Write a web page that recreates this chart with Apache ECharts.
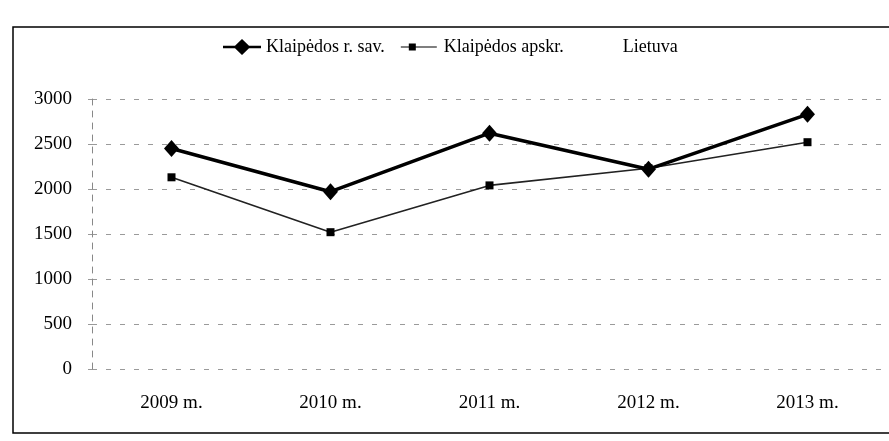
<!DOCTYPE html>
<html>
<head>
<meta charset="utf-8">
<script src="https://cdn.jsdelivr.net/npm/echarts@6/dist/echarts.min.js"></script>
<style>
  html, body { margin: 0; padding: 0; background: #fff; }
  #chart { width: 889px; height: 441px; }
</style>
</head>
<body>
<div id="chart"></div>
<script>
const categories = ['2009 m.', '2010 m.', '2011 m.', '2012 m.', '2013 m.'];
const klaipedosRSav = [2450, 1970, 2620, 2220, 2830];
const klaipedosApskr = [2130, 1520, 2040, 2230, 2520];
const lietuva = [];
const seriesNames = ['Klaipėdos r. sav.', 'Klaipėdos apskr.', 'Lietuva'];
const yTicks = [0, 500, 1000, 1500, 2000, 2500, 3000];

const FONT = '"Liberation Serif", "Times New Roman", serif';
const ICON_DIAMOND = 'path://M0 0M38 16M0 6.8H12L19 0L26 6.8H38V9.2H26L19 16L12 9.2H0Z';
const ICON_SQUARE = 'path://M0 0M38 16M0 7.5H8V4.5H15V11.5H8V8.5H0ZM15 7.5H36V8.5H15Z';

const chart = echarts.init(document.getElementById('chart'), null, { renderer: 'canvas' });

chart.setOption({
  backgroundColor: '#fff',
  animation: false,
  graphic: [{
    type: 'rect',
    shape: { x: 13, y: 27, width: 920, height: 406 },
    style: { fill: 'none', stroke: '#000', lineWidth: 1.5 },
    silent: true,
    z: -1
  }],
  legend: {
    top: 33,
    left: 218,
    itemWidth: 38,
    itemHeight: 16,
    itemGap: 16,
    symbolKeepAspect: true,
    textStyle: { fontFamily: FONT, fontSize: 18, color: '#000' },
    data: [
      { name: seriesNames[0], icon: ICON_DIAMOND },
      { name: seriesNames[1], icon: ICON_SQUARE },
      { name: seriesNames[2], icon: 'rect', itemStyle: { opacity: 0 } }
    ]
  },
  grid: { left: 92, right: 2, top: 99, bottom: 72 },
  xAxis: {
    type: 'category',
    data: categories,
    boundaryGap: true,
    axisLine: { show: false },
    axisTick: { show: false },
    axisLabel: { fontFamily: FONT, fontSize: 19, color: '#000', margin: 25 }
  },
  yAxis: {
    type: 'value',
    min: yTicks[0],
    max: yTicks[yTicks.length - 1],
    interval: 500,
    axisLine: { show: true, lineStyle: { color: '#888', type: [6, 6], width: 1 } },
    axisTick: { show: true, length: 4, lineStyle: { color: '#999' } },
    axisLabel: {
      fontFamily: FONT, fontSize: 19, color: '#000', margin: 20,
      formatter: function (v) { return String(v); }
    },
    splitLine: { show: true, lineStyle: { color: '#9a9a9a', type: [5, 9], width: 1 } }
  },
  series: [
    {
      name: seriesNames[0],
      type: 'line',
      data: klaipedosRSav,
      symbol: 'diamond',
      symbolSize: [15, 17],
      lineStyle: { color: '#000', width: 3.5 },
      itemStyle: { color: '#000' },
      z: 3
    },
    {
      name: seriesNames[1],
      type: 'line',
      data: klaipedosApskr,
      symbol: 'rect',
      symbolSize: 8,
      lineStyle: { color: '#222', width: 1.6 },
      itemStyle: { color: '#000' },
      z: 2
    },
    {
      name: seriesNames[2],
      type: 'line',
      data: lietuva,
      symbol: 'none',
      lineStyle: { color: 'rgba(0,0,0,0)' },
      itemStyle: { color: 'rgba(0,0,0,0)' }
    }
  ]
});
</script>
</body>
</html>
